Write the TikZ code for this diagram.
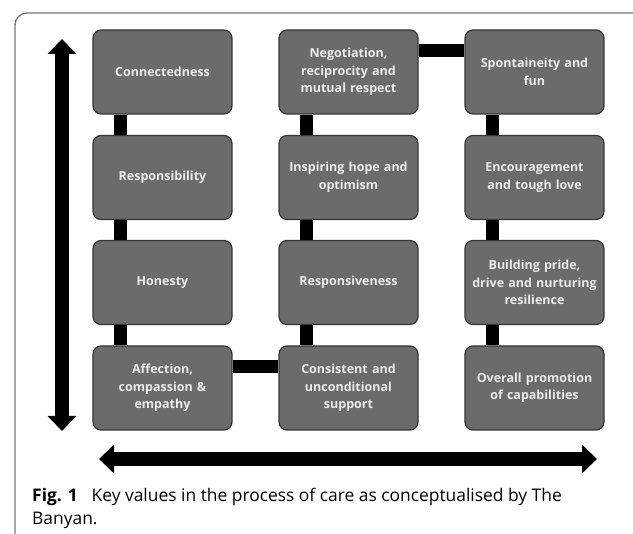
\documentclass[tikz,border=0pt]{standalone}
\usepackage{fontspec}
\setmainfont{Open Sans}
\usetikzlibrary{arrows.meta}
\definecolor{boxgray}{HTML}{6B6B6B}
\definecolor{boxedge}{HTML}{353535}
\definecolor{boxtext}{HTML}{EBEBEB}
\definecolor{framegray}{HTML}{777777}
\tikzset{vb/.append style={draw=boxedge,line width=1.2pt,fill=boxgray,rounded corners=8pt,
  minimum width=139pt,minimum height=84pt,text width=134pt,align=center,inner sep=0pt,
  text=boxtext,font=\fontsize{12.5}{17.5}\selectfont\bfseries}}
\tikzset{lk/.append style={line width=13pt,black}}
\tikzset{ar/.append style={line width=14pt,{Triangle[width=28pt,length=15pt]}-{Triangle[width=28pt,length=15pt]}}}

\begin{document}
\begin{tikzpicture}[x=1pt,y=-1pt]
                \useasboundingbox (0,0) rectangle (633,534);
                % frame
                \draw[framegray,line width=1.3pt,rounded corners=12pt] (15,534) -- (15,13) -- (633,13);
                % values
                \node[vb] (con) at (162.5,72) {Connectedness};
                \node[vb] (res) at (162.5,177.5) {Responsibility};
                \node[vb] (hon) at (162.5,282.5) {Honesty};
                \node[vb] (aff) at (162.5,388) {Affection,\\compassion \&\\empathy};
                \node[vb] (neg) at (348.5,72) {Negotiation,\\reciprocity and\\mutual respect};
                \node[vb] (hop) at (348.5,177.5) {Inspiring hope and\\optimism};
                \node[vb] (rsp) at (348.5,282.5) {Responsiveness};
                \node[vb] (sup) at (348.5,388) {Consistent and\\unconditional\\support};
                \node[vb] (fun) at (534.5,72) {Spontaineity and\\fun};
                \node[vb] (enc) at (534.5,177.5) {Encouragement\\and tough love};
                \node[vb] (pri) at (534.5,282.5) {Building pride,\\drive and nurturing\\resilience};
                \node[vb] (cap) at (534.5,388) {Overall promotion\\of capabilities};
                % links
                \draw[lk] ([xshift=28pt]con.south west) -- ([xshift=28pt]res.north west);
                \draw[lk] ([xshift=28pt]res.south west) -- ([xshift=28pt]hon.north west);
                \draw[lk] ([xshift=28pt]hon.south west) -- ([xshift=28pt]aff.north west);
                \draw[lk] ([xshift=28pt]neg.south west) -- ([xshift=28pt]hop.north west);
                \draw[lk] ([xshift=28pt]hop.south west) -- ([xshift=28pt]rsp.north west);
                \draw[lk] ([xshift=28pt]rsp.south west) -- ([xshift=28pt]sup.north west);
                \draw[lk] ([xshift=28pt]fun.south west) -- ([xshift=28pt]enc.north west);
                \draw[lk] ([xshift=28pt]enc.south west) -- ([xshift=28pt]pri.north west);
                \draw[lk] ([xshift=28pt]pri.south west) -- ([xshift=28pt]cap.north west);
                \draw[lk] ([yshift=-21pt]neg.north east) -- ([yshift=-21pt]fun.north west);
                \draw[lk] ([yshift=-21pt]aff.north east) -- ([yshift=-21pt]sup.north west);
                % axes
                \coordinate (up) at (62,39);
                \coordinate (down) at (62,431);
                \coordinate (left) at (99,459);
                \coordinate (right) at (597,459);
                \draw[ar] (up) -- (down);
                \draw[ar] (left) -- (right);
                % caption
                \node[anchor=base west,inner sep=0pt,font=\fontsize{17.4}{23}\selectfont] (cap1) at (32,502)
                  {\textbf{Fig. 1}\hspace{0.8em}Key values in the process of care as conceptualised by The};
                \node[anchor=base west,inner sep=0pt,font=\fontsize{17.4}{23}\selectfont] (cap2) at (32,525) {Banyan.};
\end{tikzpicture}
\end{document}
